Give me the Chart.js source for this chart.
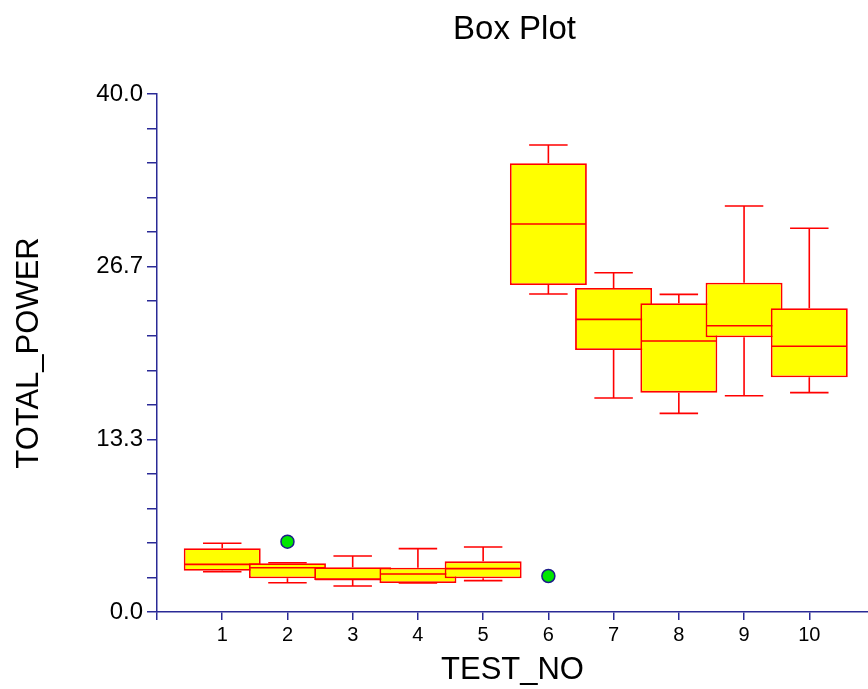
<!DOCTYPE html>
<html>
<head>
<meta charset="utf-8">
<script src="https://cdn.jsdelivr.net/npm/chart.js@4/dist/chart.umd.min.js"></script>
<style>
  html, body { margin: 0; padding: 0; background: #ffffff; }
  #wrap { width: 868px; height: 689px; }
</style>
</head>
<body>
<div id="wrap"><canvas id="c" width="868" height="689"></canvas></div>
<script>
// ---- data ----
const categories  = [1, 2, 3, 4, 5, 6, 7, 8, 9, 10];
const q1          = [3.19, 2.60, 2.47, 2.24, 2.60, 25.25, 20.23, 16.94, 21.21, 18.12];
const q3          = [4.92, 3.76, 3.45, 3.42, 3.91, 34.65, 25.02, 23.84, 25.43, 23.45];
const medians     = [3.68, 3.42, 2.52, 2.93, 3.35, 29.96, 22.60, 20.93, 22.11, 20.52];
const whiskerLow  = [3.11, 2.26, 2.01, 2.24, 2.42, 24.56, 16.53, 15.34, 16.70, 16.94];
const whiskerHigh = [5.31, 3.80, 4.32, 4.89, 5.02, 36.06, 26.20, 24.53, 31.35, 29.63];
const outlierX    = [2, 6];
const outlierY    = [5.43, 2.78];
const yTickLabels = ['0.0', '13.3', '26.7', '40.0'];
const yMax = 40;
const yMinorPerMajor = 5;

const FONT = "'Liberation Sans', Arial, Helvetica, sans-serif";
const AXIS = '#2a2a96';
const RED = '#ff0000';

// one dataset per box so that later boxes overlap earlier ones
const boxDatasets = categories.map((c, i) => ({
  type: 'bar',
  label: 'TEST_NO ' + c,
  boxIndex: i,
  data: [{ x: c, y: [q1[i], q3[i]] }],
  backgroundColor: '#ffff00',
  borderColor: RED,
  borderWidth: 1.8,
  borderSkipped: false,
  grouped: false,
  categoryPercentage: 1.0,
  barPercentage: 1.18,
  order: categories.length - i + 1
}));

const outlierDataset = {
  type: 'scatter',
  label: 'Outliers',
  data: outlierX.map((x, i) => ({ x: x, y: outlierY[i] })),
  backgroundColor: '#00e600',
  borderColor: '#1c1c88',
  borderWidth: 1.5,
  pointRadius: 6.5,
  pointHoverRadius: 6.5,
  order: 0
};

const boxWhiskerPlugin = {
  id: 'boxWhisker',
  afterDatasetDraw(chart, args) {
    const ds = chart.data.datasets[args.index];
    if (ds.boxIndex === undefined) return;
    const i = ds.boxIndex;
    const el = args.meta.data[0];
    const ys = chart.scales.y;
    const ctx = chart.ctx;
    const x = el.x, w = el.width;
    const cap = w / 4;
    const yHi = ys.getPixelForValue(whiskerHigh[i]);
    const yQ3 = ys.getPixelForValue(q3[i]);
    const yQ1 = ys.getPixelForValue(q1[i]);
    const yLo = ys.getPixelForValue(whiskerLow[i]);
    const yMed = ys.getPixelForValue(medians[i]);
    ctx.save();
    ctx.strokeStyle = RED;
    ctx.lineWidth = 1.6;
    ctx.beginPath();
    ctx.moveTo(x, yQ3); ctx.lineTo(x, yHi);
    ctx.moveTo(x - cap, yHi); ctx.lineTo(x + cap, yHi);
    ctx.moveTo(x, yQ1); ctx.lineTo(x, yLo);
    ctx.moveTo(x - cap, yLo); ctx.lineTo(x + cap, yLo);
    ctx.moveTo(x - w / 2 + 1, yMed); ctx.lineTo(x + w / 2 - 1, yMed);
    ctx.stroke();
    ctx.restore();
  }
};

const titlePlugin = {
  id: 'centeredTitle',
  afterDraw(chart) {
    const ctx = chart.ctx;
    const a = chart.chartArea;
    ctx.save();
    ctx.font = '33px ' + FONT;
    ctx.fillStyle = '#000000';
    ctx.textAlign = 'center';
    ctx.textBaseline = 'middle';
    ctx.fillText('Box Plot', (a.left + a.right) / 2 + 2, 29.5);
    ctx.restore();
  }
};

new Chart(document.getElementById('c'), {
  data: { datasets: [...boxDatasets, outlierDataset] },
  options: {
    responsive: false,
    animation: false,
    events: [],
    layout: { autoPadding: false, padding: { top: 94, right: 0, left: 0, bottom: 0 } },
    plugins: {
      legend: { display: false },
      title: { display: false },
      tooltip: { enabled: false }
    },
    scales: {
      x: {
        type: 'linear',
        min: 0,
        max: 10.9,
        offset: false,
        afterBuildTicks: (scale) => {
          scale.ticks = [0, ...categories].map(v => ({ value: v }));
        },
        afterFit: (scale) => {
          scale.height = 77;
          scale.paddingLeft = 0;
          scale.paddingRight = 0;
        },
        ticks: {
          autoSkip: false,
          maxRotation: 0,
          padding: 3,
          color: '#000000',
          font: { family: FONT, size: 20 },
          callback: (v) => (v === 0 ? '' : String(v))
        },
        grid: {
          offset: false,
          drawOnChartArea: false,
          drawTicks: true,
          tickLength: 8,
          color: AXIS,
          tickColor: AXIS,
          lineWidth: 1.5
        },
        border: { display: true, color: AXIS, width: 1.5 },
        title: {
          display: true,
          text: 'TEST_NO',
          color: '#000000',
          font: { family: FONT, size: 31 },
          padding: { top: 0, bottom: 0 }
        }
      },
      y: {
        type: 'linear',
        min: 0,
        max: yMax,
        afterBuildTicks: (scale) => {
          const n = (yTickLabels.length - 1) * yMinorPerMajor;
          const t = [];
          for (let k = 0; k <= n; k++) t.push({ value: yMax * k / n });
          scale.ticks = t;
        },
        afterFit: (scale) => { scale.width = 157; },
        ticks: {
          autoSkip: false,
          padding: 4,
          color: '#000000',
          font: { family: FONT, size: 24 },
          callback: (v, idx) => (idx % yMinorPerMajor === 0 ? yTickLabels[idx / yMinorPerMajor] : '')
        },
        grid: {
          drawOnChartArea: false,
          drawTicks: true,
          tickLength: 10,
          color: AXIS,
          tickColor: AXIS,
          lineWidth: 1.5
        },
        border: { display: true, color: AXIS, width: 1.5 },
        title: {
          display: true,
          text: 'TOTAL_POWER',
          color: '#000000',
          font: { family: FONT, size: 31 },
          padding: { top: 11, bottom: 0 }
        }
      }
    }
  },
  plugins: [boxWhiskerPlugin, titlePlugin]
});
</script>
</body>
</html>
